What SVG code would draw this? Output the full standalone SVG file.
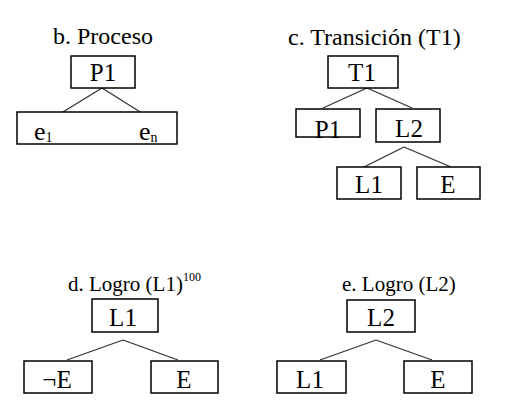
<svg xmlns="http://www.w3.org/2000/svg" width="513" height="418" viewBox="0 0 513 418">
<g font-family="Tinos, Liberation Serif, serif" fill="#000">
<text x="53" y="44" font-size="24">b. Proceso</text>
<text x="288" y="45" font-size="24">c. Transición (T1)</text>
<text x="68" y="291" font-size="21">d. Logro (L1)<tspan font-size="12" dy="-10">100</tspan></text>
<text x="342" y="291" font-size="21">e. Logro (L2)</text>
</g>
<g id="connectors" stroke="#333" stroke-width="1.3">
<line x1="102" y1="88" x2="58" y2="115"/>
<line x1="102" y1="88" x2="145" y2="115"/>
<line x1="367" y1="88" x2="323" y2="108"/>
<line x1="367" y1="88" x2="412" y2="108"/>
<line x1="404" y1="147" x2="364" y2="167"/>
<line x1="404" y1="147" x2="451" y2="167"/>
<line x1="123" y1="340" x2="67" y2="360"/>
<line x1="123" y1="340" x2="178" y2="360"/>
<line x1="376" y1="340" x2="320" y2="360"/>
<line x1="376" y1="340" x2="432" y2="360"/>
</g>
<g font-family="Tinos, Liberation Serif, serif" font-size="25" text-anchor="middle">
<g id="b-P1"><rect x="71" y="56" width="64" height="32" fill="#fff" stroke="#000" stroke-width="1.5"/><text x="103" y="81">P1</text></g>
<g id="b-events" text-anchor="start"><rect x="17" y="112" width="160" height="32" fill="#fff" stroke="#000" stroke-width="1.5"/>
<text x="34" y="140" font-size="26">e<tspan font-size="14" dy="2">1</tspan></text>
<text x="139" y="140" font-size="26">e<tspan font-size="14" dy="2">n</tspan></text></g>
<g id="c-T1"><rect x="328" y="56" width="70" height="32" fill="#fff" stroke="#000" stroke-width="1.5"/><text x="362" y="81">T1</text></g>
<g id="c-P1"><rect x="296" y="109" width="64" height="28" fill="#fff" stroke="#000" stroke-width="1.5"/><text x="328" y="138">P1</text></g>
<g id="c-L2"><rect x="376" y="109" width="64" height="33" fill="#fff" stroke="#000" stroke-width="1.5"/><text x="409" y="137">L2</text></g>
<g id="c-L1"><rect x="337" y="167" width="64" height="32" fill="#fff" stroke="#000" stroke-width="1.5"/><text x="369" y="193">L1</text></g>
<g id="c-E"><rect x="417" y="167" width="63" height="32" fill="#fff" stroke="#000" stroke-width="1.5"/><text x="448" y="193">E</text></g>
<g id="d-L1"><rect x="92" y="299" width="66" height="33" fill="#fff" stroke="#000" stroke-width="1.5"/><text x="123" y="326">L1</text></g>
<g id="d-notE"><rect x="24" y="361" width="68" height="32" fill="#fff" stroke="#000" stroke-width="1.5"/><text x="57" y="388">¬E</text></g>
<g id="d-E"><rect x="151" y="361" width="67" height="32" fill="#fff" stroke="#000" stroke-width="1.5"/><text x="184" y="388">E</text></g>
<g id="e-L2"><rect x="347" y="300" width="68" height="32" fill="#fff" stroke="#000" stroke-width="1.5"/><text x="381" y="326">L2</text></g>
<g id="e-L1"><rect x="277" y="361" width="69" height="32" fill="#fff" stroke="#000" stroke-width="1.5"/><text x="310" y="388">L1</text></g>
<g id="e-E"><rect x="404" y="361" width="68" height="32" fill="#fff" stroke="#000" stroke-width="1.5"/><text x="438" y="388">E</text></g>
</g>
</svg>
